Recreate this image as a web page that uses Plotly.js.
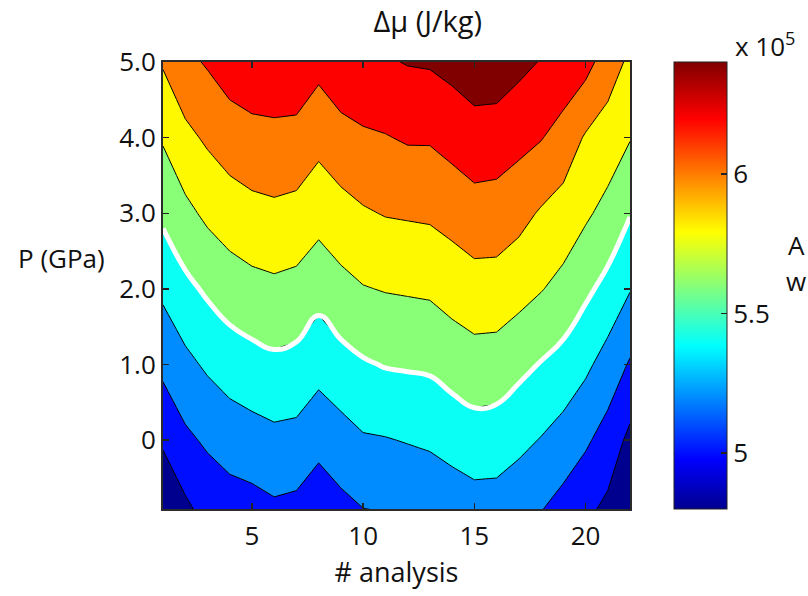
<!DOCTYPE html>
<html><head><meta charset="utf-8">
<script src="https://cdn.plot.ly/plotly-3.0.1.min.js"></script>
<style>html,body{margin:0;padding:0;background:#fff}#chart{width:808px;height:596px}</style>
</head><body><div id="chart"></div>
<script>
// x: analysis number, y: pressure (GPa)
const analysis = [1,2,3,4,5,6,7,8,9,10,11,12,13,14,15,16,17,18,19,20,21,22];
const pressure = [-1,0,1,2,3,4,5];
// Δμ (×10^5 J/kg), one row per pressure
const dmu_Pm1 = [4.70,4.84,4.95,4.99,5.01,5.05,5.03,4.96,5.03,5.08,5.09,5.11,5.13,5.17,5.20,5.20,5.15,5.09,5.01,4.93,4.84,4.62];
const dmu_P0  = [4.93,5.06,5.13,5.19,5.22,5.25,5.24,5.16,5.22,5.28,5.29,5.31,5.33,5.37,5.41,5.40,5.35,5.29,5.22,5.13,5.02,4.85];
const dmu_P1  = [5.15,5.25,5.33,5.39,5.43,5.46,5.44,5.37,5.43,5.48,5.51,5.52,5.53,5.58,5.62,5.61,5.55,5.49,5.43,5.34,5.22,5.08];
const dmu_P2  = [5.34,5.45,5.53,5.60,5.64,5.66,5.64,5.57,5.64,5.69,5.71,5.72,5.73,5.78,5.82,5.82,5.77,5.71,5.64,5.54,5.44,5.31];
const dmu_P3  = [5.54,5.65,5.74,5.80,5.84,5.86,5.84,5.77,5.83,5.88,5.91,5.92,5.93,5.97,6.02,6.01,5.96,5.88,5.82,5.73,5.64,5.51];
const dmu_P4  = [5.72,5.85,5.93,6.00,6.04,6.05,6.04,5.96,6.03,6.07,6.09,6.12,6.12,6.17,6.22,6.21,6.16,6.11,6.02,5.88,5.81,5.71];
const dmu_P5  = [5.92,6.05,6.12,6.20,6.23,6.24,6.24,6.16,6.24,6.27,6.28,6.31,6.32,6.36,6.41,6.41,6.35,6.29,6.24,6.17,6.00,5.86];

const levelStart = 4.9, levelEnd = 6.3, levelStep = 0.2;
const highlightLevel = 5.5;
const cbRange = [4.8, 6.4];
const cbTicks = [5, 5.5, 6];
const cbTickText = ['5', '5.5', '6'];
const xTicks = [5, 10, 15, 20];
const yTicks = [0, 1, 2, 3, 4, 5];
const yTickText = ['0', '1.0', '2.0', '3.0', '4.0', '5.0'];

const zGrid = [dmu_Pm1, dmu_P0, dmu_P1, dmu_P2, dmu_P3, dmu_P4, dmu_P5];

const jet = [
  [0, 'rgb(0,0,143)'], [0.111, 'rgb(0,0,255)'], [0.365, 'rgb(0,255,255)'],
  [0.619, 'rgb(255,255,0)'], [0.873, 'rgb(255,0,0)'], [1, 'rgb(128,0,0)']
];
const FONT = 'Open Sans, Noto Sans, sans-serif';
const TXT = '#111';
const FS = 26;

const fill = {
  type: 'contour', x: analysis, y: pressure, z: zGrid,
  zmin: cbRange[0], zmax: cbRange[1], autocontour: false,
  contours: {start: levelStart, end: levelEnd, size: levelStep, coloring: 'fill', showlines: true},
  line: {color: '#000', width: 1, smoothing: 0},
  colorscale: jet, showscale: false, hoverinfo: 'skip'
};
const white = {
  type: 'contour', x: analysis, y: pressure, z: zGrid, autocontour: false,
  contours: {start: highlightLevel, end: highlightLevel, size: 1, coloring: 'none'},
  line: {color: '#fff', width: 5, smoothing: 1.3},
  showscale: false, hoverinfo: 'skip'
};
const cbar = {
  type: 'scatter', mode: 'markers', x: [analysis[0], analysis[0]], y: [pressure[1], pressure[1]],
  hoverinfo: 'skip', showlegend: false,
  marker: {
    opacity: 0, size: 1, color: cbRange, cmin: cbRange[0], cmax: cbRange[1],
    colorscale: jet, showscale: true,
    colorbar: {
      thickness: 53, thicknessmode: 'pixels', len: 1, lenmode: 'fraction',
      x: 1.094, xanchor: 'left', y: 0.5, yanchor: 'middle', xpad: 0, ypad: 0,
      outlinewidth: 1, outlinecolor: '#222',
      tickvals: cbTicks, ticktext: cbTickText, ticks: 'inside', ticklen: 6,
      tickwidth: 1.5, tickcolor: '#222',
      tickfont: {family: FONT, size: FS, color: TXT}
    }
  }
};

const axisCommon = {
  showgrid: false, zeroline: false, showline: true, linewidth: 2, linecolor: '#2b2b2b',
  mirror: 'ticks', ticks: 'inside', ticklen: 6, tickwidth: 1.5, tickcolor: '#222',
  tickfont: {family: FONT, size: FS, color: TXT}
};

// left-side colorbar tick marks (paper coords)
const cbLeft = 1.094, cbTickLen = 6 / 467;
const cbShapes = cbTicks.map(v => ({
  type: 'line', xref: 'paper', yref: 'paper',
  x0: cbLeft, x1: cbLeft + cbTickLen,
  y0: (v - cbRange[0]) / (cbRange[1] - cbRange[0]),
  y1: (v - cbRange[0]) / (cbRange[1] - cbRange[0]),
  line: {color: '#222', width: 1.5}
}));

const layout = {
  width: 808, height: 596,
  margin: {l: 163, r: 178, t: 62, b: 87},
  paper_bgcolor: '#fff', plot_bgcolor: '#fff',
  showlegend: false,
  font: {family: FONT, size: FS, color: TXT},
  title: {text: 'Δμ (J/kg)', x: 0.567, xref: 'paper', xanchor: 'center',
          y: 1 - 22/596, yref: 'container', yanchor: 'middle',
          font: {family: FONT, size: 29, color: TXT}},
  xaxis: Object.assign({}, axisCommon, {
    range: [1, 22], tickvals: xTicks, ticklabelstandoff: 3,
    title: {text: '# analysis', standoff: 10, font: {family: FONT, size: 27, color: TXT}}
  }),
  yaxis: Object.assign({}, axisCommon, {
    range: [-0.91, 5], tickvals: yTicks, ticktext: yTickText
  }),
  shapes: cbShapes,
  annotations: [
    {text: 'P (GPa)', xref: 'paper', yref: 'paper', x: -0.218, y: 0.5615,
     xanchor: 'center', yanchor: 'middle', showarrow: false, font: {family: FONT, size: FS, color: TXT}},
    {text: 'x 10<sup>5</sup>', xref: 'paper', yref: 'paper', x: 1.291, y: 1.038,
     xanchor: 'center', yanchor: 'middle', showarrow: false, font: {family: FONT, size: FS, color: TXT}},
    {text: 'A', xref: 'paper', yref: 'paper', x: 1.334, y: 0.59,
     xanchor: 'left', yanchor: 'middle', showarrow: false, font: {family: FONT, size: FS, color: TXT}},
    {text: 'w', xref: 'paper', yref: 'paper', x: 1.330, y: 0.51,
     xanchor: 'left', yanchor: 'middle', showarrow: false, font: {family: FONT, size: FS, color: TXT}}
  ]
};

Plotly.newPlot('chart', [fill, white, cbar], layout, {displayModeBar: false, staticPlot: true});
</script>
</body></html>
